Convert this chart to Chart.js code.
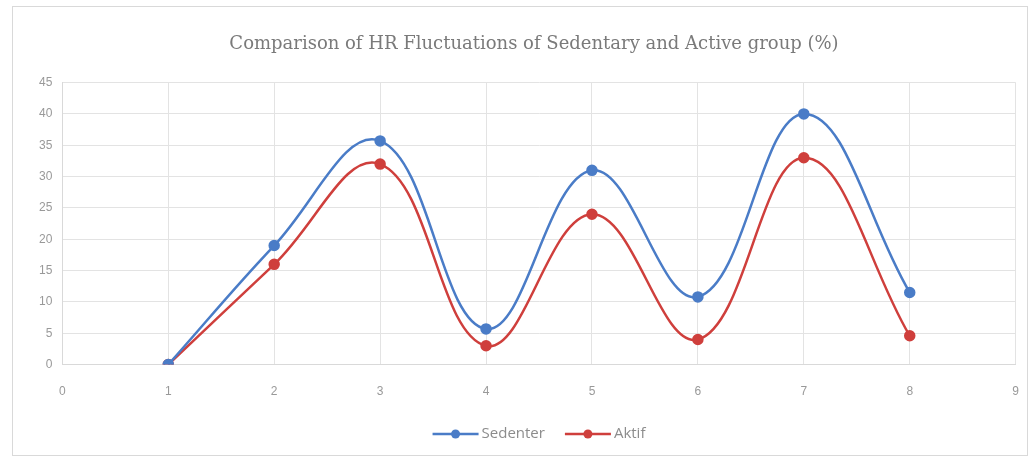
<!DOCTYPE html>
<html>
<head>
<meta charset="utf-8">
<script src="https://cdn.jsdelivr.net/npm/chart.js@4"></script>
<style>
  html, body { margin: 0; padding: 0; background: #fff; overflow: hidden; }
  .frame { position: absolute; left: 12px; top: 6px; width: 1016px; height: 450px; border: 1px solid #d9d9d9; box-sizing: border-box; }
  .wrap { position: absolute; left: 13px; top: 7px; width: 1026px; height: 448px; }
  canvas { display: block; }
</style>
</head>
<body>
<div class="frame"></div>
<div class="wrap"><canvas id="hrChart"></canvas></div>
<script>
const xValues = [1, 2, 3, 4, 5, 6, 7, 8];
const sedenter = [0, 19, 35.7, 5.7, 31, 10.8, 40, 11.5];
const aktif = [0, 16, 32, 3, 24, 4, 33, 4.6];
const seriesNames = ['Sedenter', 'Aktif'];
const seriesColors = ['#4a7cc7', '#cf3f3c'];

const toPoints = arr => arr.map((v, i) => ({ x: xValues[i], y: v }));

// legend drawn like Excel: line + marker + label
const excelLegend = {
  id: 'excelLegend',
  afterDraw(chart) {
    const ctx = chart.ctx;
    ctx.save();
    ctx.font = '15px "Open Sans", sans-serif';
    ctx.textBaseline = 'middle';
    const items = chart.data.datasets.map(ds => ({ label: ds.label, color: ds.borderColor, w: ctx.measureText(ds.label).width }));
    const lineW = 46, gap = 3, spacing = 20;
    const total = items.reduce((s, it) => s + lineW + gap + it.w, 0) + spacing * (items.length - 1);
    const area = chart.chartArea;
    let x = (area.left + area.right) / 2 - total / 2;
    const y = chart.height - 21;
    items.forEach(it => {
      ctx.strokeStyle = it.color;
      ctx.lineWidth = 2.5;
      ctx.beginPath();
      ctx.moveTo(x, y);
      ctx.lineTo(x + lineW, y);
      ctx.stroke();
      ctx.fillStyle = it.color;
      ctx.beginPath();
      ctx.arc(x + lineW / 2, y, 4.5, 0, Math.PI * 2);
      ctx.fill();
      ctx.fillStyle = '#8c8c8c';
      ctx.fillText(it.label, x + lineW + gap, y);
      x += lineW + gap + it.w + spacing;
    });
    ctx.restore();
  }
};

new Chart(document.getElementById('hrChart'), {
  type: 'scatter',
  data: {
    datasets: [
      {
        label: seriesNames[0],
        data: toPoints(sedenter),
        showLine: true,
        tension: 0.4,
        borderColor: seriesColors[0],
        backgroundColor: seriesColors[0],
        borderWidth: 2.5,
        pointRadius: 4.5,
        pointHoverRadius: 4.5
      },
      {
        label: seriesNames[1],
        data: toPoints(aktif),
        showLine: true,
        tension: 0.4,
        borderColor: seriesColors[1],
        backgroundColor: seriesColors[1],
        borderWidth: 2.5,
        pointRadius: 4.5,
        pointHoverRadius: 4.5
      }
    ]
  },
  options: {
    responsive: true,
    maintainAspectRatio: false,
    animation: false,
    layout: { padding: { left: 16, right: 0, top: 3, bottom: 36 } },
    plugins: {
      legend: { display: false },
      tooltip: { enabled: false },
      title: {
        display: true,
        text: 'Comparison of HR Fluctuations of Sedentary and Active group (%)',
        color: '#7a7a7a',
        font: { family: '"DejaVu Serif", serif', size: 18, weight: 'normal' },
        padding: { top: 24, bottom: 27 }
      }
    },
    scales: {
      x: {
        type: 'linear',
        min: 0,
        max: 9,
        ticks: { stepSize: 1, color: '#999', font: { size: 12 }, padding: 20 },
        grid: { color: '#e3e3e3', drawTicks: false },
        border: { color: '#d9d9d9' }
      },
      y: {
        min: 0,
        max: 45,
        ticks: { stepSize: 5, color: '#999', font: { size: 12 }, padding: 10 },
        grid: { color: '#e3e3e3', drawTicks: false },
        border: { color: '#d9d9d9' }
      }
    }
  },
  plugins: [excelLegend]
});
</script>
</body>
</html>
